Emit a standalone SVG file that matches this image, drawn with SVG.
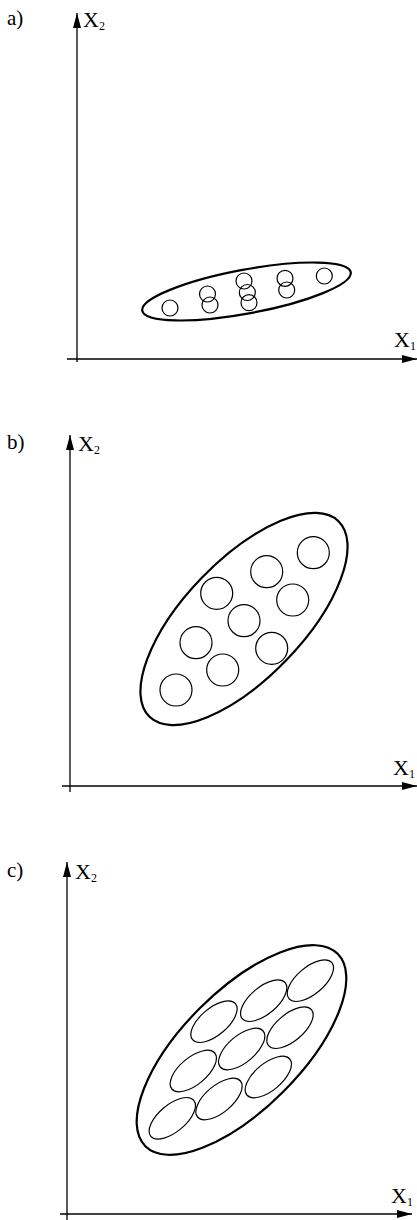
<svg xmlns="http://www.w3.org/2000/svg" width="417" height="1220" viewBox="0 0 417 1220">
<defs>
<marker id="arr" markerUnits="userSpaceOnUse" markerWidth="16" markerHeight="10" refX="15" refY="5" orient="auto">
<path d="M0,1 L15,5 L0,9 Z" fill="#000"/>
</marker>
</defs>
<style>
.ax{stroke:#000;stroke-width:1.3;fill:none}
.big{stroke:#000;stroke-width:2.2;fill:none}
.sm{stroke:#000;stroke-width:1.2;fill:none}
.lab{font-family:"Liberation Serif","Times New Roman",serif;font-size:21px;fill:#000}
.x{font-family:"Liberation Serif","Times New Roman",serif;font-size:22px;fill:#000}
.sub{font-family:"Liberation Serif","Times New Roman",serif;font-size:12px;fill:#000}
</style>
<g id="connectors">
<line class="ax" x1="77" y1="362" x2="77" y2="13" marker-end="url(#arr)"/>
<line class="ax" x1="67" y1="359" x2="417" y2="359" marker-end="url(#arr)"/>
<line class="ax" x1="70" y1="792" x2="70" y2="435" marker-end="url(#arr)"/>
<line class="ax" x1="62" y1="786" x2="417" y2="786" marker-end="url(#arr)"/>
<line class="ax" x1="67" y1="1220" x2="67" y2="862" marker-end="url(#arr)"/>
<line class="ax" x1="60" y1="1214" x2="412" y2="1214" marker-end="url(#arr)"/>
</g>
<g id="labels">
<text class="lab" x="7" y="25">a)</text>
<text class="x" x="83" y="27">X<tspan class="sub" dy="3">2</tspan></text>
<text class="x" x="394" y="347">X<tspan class="sub" dy="3">1</tspan></text>
<text class="lab" x="7" y="449">b)</text>
<text class="x" x="78" y="451">X<tspan class="sub" dy="3">2</tspan></text>
<text class="x" x="393" y="775">X<tspan class="sub" dy="3">1</tspan></text>
<text class="lab" x="7" y="877">c)</text>
<text class="x" x="75" y="879">X<tspan class="sub" dy="3">2</tspan></text>
<text class="x" x="391" y="1203">X<tspan class="sub" dy="3">1</tspan></text>
</g>
<g id="panel-a">
<ellipse class="big" cx="246.5" cy="291.5" rx="106" ry="22" transform="rotate(-10.5 246.5 291.5)"/>
<circle class="sm" cx="170" cy="308" r="8"/>
<circle class="sm" cx="207.5" cy="294" r="8"/>
<circle class="sm" cx="210" cy="305" r="8"/>
<circle class="sm" cx="244" cy="281" r="8"/>
<circle class="sm" cx="247.3" cy="292.5" r="8"/>
<circle class="sm" cx="249" cy="302.7" r="8"/>
<circle class="sm" cx="285" cy="278.3" r="8"/>
<circle class="sm" cx="286.7" cy="290" r="8"/>
<circle class="sm" cx="324.3" cy="276" r="8"/>
</g>
<g id="panel-b">
<ellipse class="big" cx="244" cy="619" rx="136" ry="59" transform="rotate(-46 244 619)"/>
<circle class="sm" cx="313.3" cy="552.7" r="16"/>
<circle class="sm" cx="266.7" cy="571.7" r="16"/>
<circle class="sm" cx="216.7" cy="593.3" r="16"/>
<circle class="sm" cx="292.7" cy="600" r="16"/>
<circle class="sm" cx="244" cy="620.7" r="16"/>
<circle class="sm" cx="196" cy="642.7" r="16"/>
<circle class="sm" cx="271.7" cy="648.3" r="16"/>
<circle class="sm" cx="222.7" cy="670" r="16"/>
<circle class="sm" cx="176" cy="690" r="16"/>
</g>
<g id="panel-c">
<ellipse class="big" cx="241.5" cy="1050" rx="136" ry="59" transform="rotate(-45 241.5 1050)"/>
<ellipse class="sm" cx="310.4" cy="980.7" rx="28" ry="13.5" transform="rotate(-40 310.4 980.7)"/>
<ellipse class="sm" cx="263.7" cy="1000.7" rx="28" ry="13.5" transform="rotate(-40 263.7 1000.7)"/>
<ellipse class="sm" cx="214" cy="1021.7" rx="28" ry="13.5" transform="rotate(-40 214 1021.7)"/>
<ellipse class="sm" cx="290" cy="1027.7" rx="28" ry="13.5" transform="rotate(-40 290 1027.7)"/>
<ellipse class="sm" cx="241.7" cy="1049" rx="28" ry="13.5" transform="rotate(-40 241.7 1049)"/>
<ellipse class="sm" cx="193.3" cy="1071" rx="28" ry="13.5" transform="rotate(-40 193.3 1071)"/>
<ellipse class="sm" cx="268.3" cy="1077" rx="28" ry="13.5" transform="rotate(-40 268.3 1077)"/>
<ellipse class="sm" cx="219" cy="1099" rx="28" ry="13.5" transform="rotate(-40 219 1099)"/>
<ellipse class="sm" cx="172.3" cy="1118.3" rx="28" ry="13.5" transform="rotate(-40 172.3 1118.3)"/>
</g>
</svg>
